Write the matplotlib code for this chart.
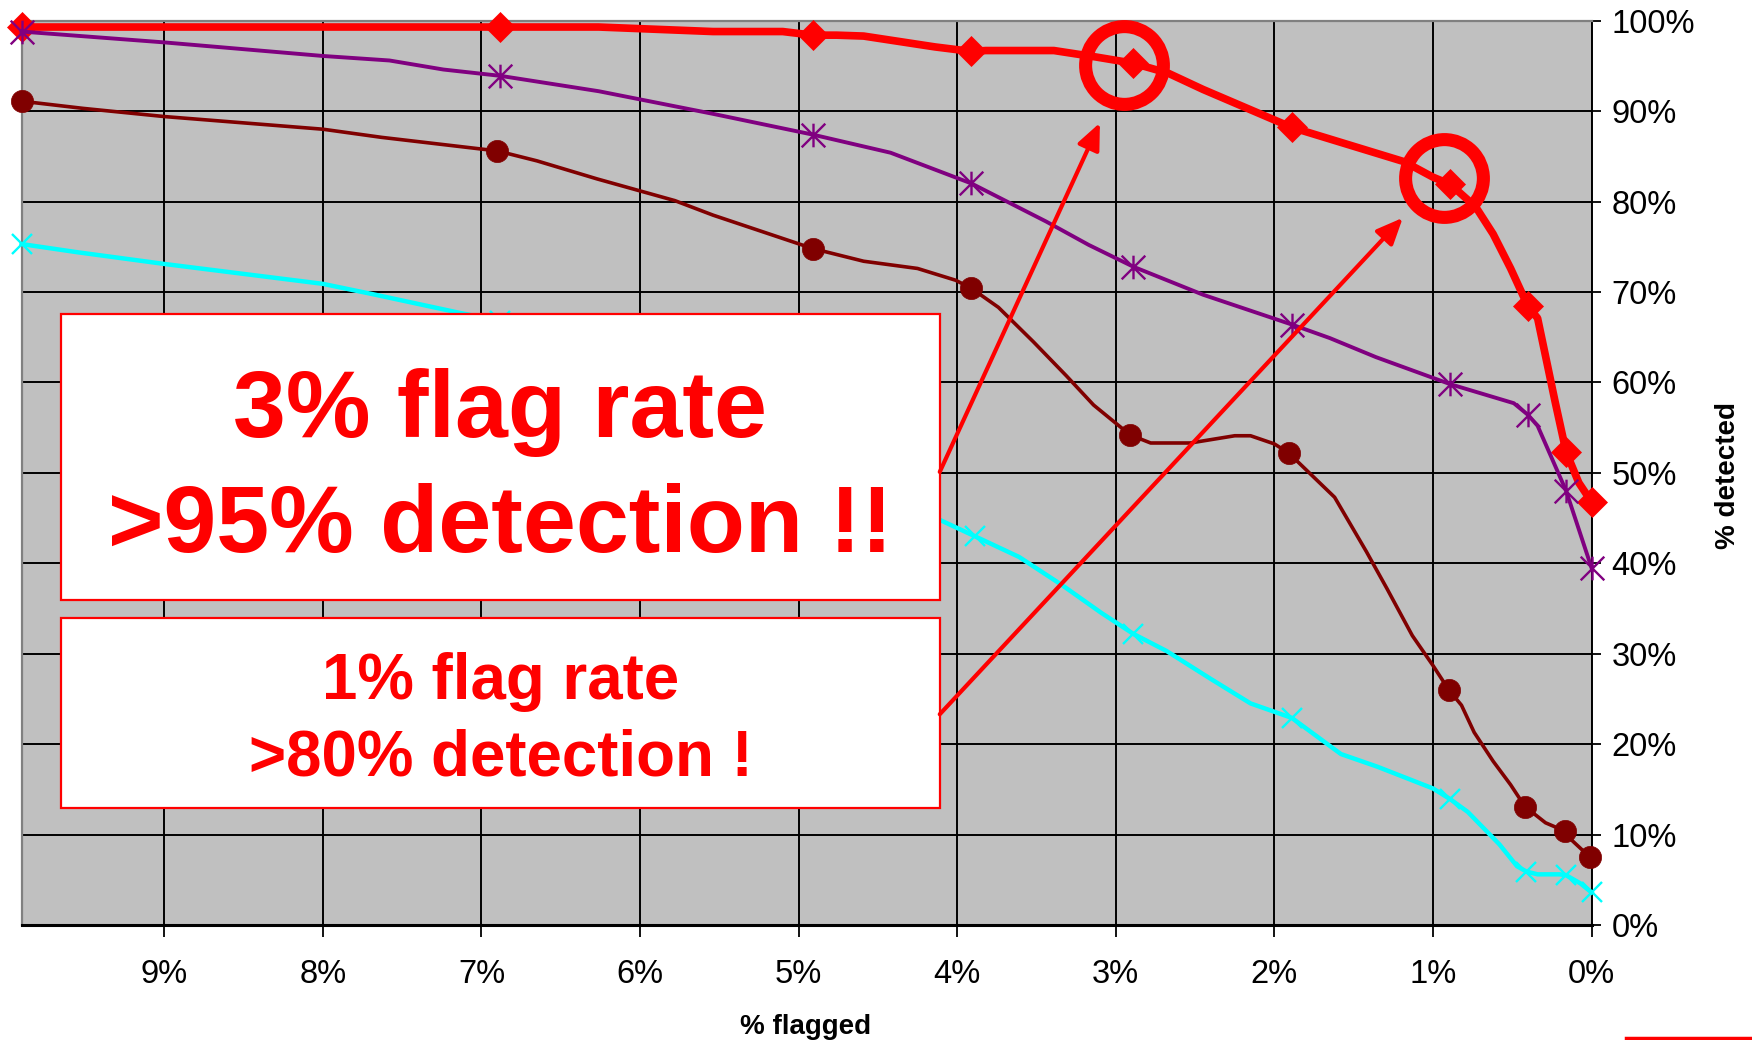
import matplotlib
matplotlib.use("Agg")
import matplotlib.pyplot as plt
from matplotlib.patches import Rectangle, FancyArrowPatch
from matplotlib.path import Path
from matplotlib.lines import Line2D

plt.rcParams["font.family"] = ["Liberation Sans", "DejaVu Sans"]

# --- data: % flagged (x) vs % detected (y), markers every few points ---
red_x = [9.9, 6.88, 6.26, 5.54, 5.10, 4.91, 4.76, 4.59, 4.14, 3.91, 3.82, 3.39, 3.13, 2.89,
         2.67, 2.45, 1.89, 1.18, 1.00, 0.89, 0.73, 0.62, 0.51, 0.40, 0.34, 0.23, 0.16, 0.08, 0.0]
red_y = [99.3, 99.3, 99.3, 98.8, 98.8, 98.4, 98.4, 98.3, 97.1, 96.6, 96.7, 96.7, 96.0, 95.3,
         94.2, 92.4, 88.2, 84.4, 82.7, 81.9, 79.4, 76.4, 72.6, 68.4, 67.1, 57.9, 52.3, 48.9, 46.8]
red_marks = [0, 1, 5, 9, 13, 16, 19, 23, 26, 28]

pur_x = [9.9, 9.0, 8.0, 7.58, 7.24, 6.88, 6.26, 5.54, 4.91, 4.42, 3.91, 3.44, 3.17, 2.89,
         2.45, 1.89, 1.65, 1.36, 0.89, 0.49, 0.40, 0.34, 0.16, 0.0]
pur_y = [98.8, 97.6, 96.1, 95.6, 94.6, 93.9, 92.2, 89.7, 87.4, 85.4, 82.0, 77.8, 75.2, 72.8,
         69.7, 66.4, 64.9, 62.8, 59.8, 57.7, 56.4, 55.2, 48.0, 39.5]
pur_marks = [0, 5, 8, 10, 13, 15, 18, 20, 22, 23]

dr_x = [9.9, 9.51, 9.0, 8.0, 7.63, 6.90, 6.65, 6.27, 5.78, 5.54, 4.91, 4.59, 4.25, 4.01, 3.91,
        3.74, 3.52, 3.31, 3.14, 2.91, 2.78, 2.53, 2.25, 2.15, 2.0, 1.91, 1.62, 1.42, 1.29, 1.13,
        1.0, 0.90, 0.82, 0.74, 0.62, 0.51, 0.42, 0.29, 0.17, 0.12, 0.01]
dr_y = [91.1, 90.3, 89.4, 88.0, 87.1, 85.6, 84.5, 82.5, 80.1, 78.5, 74.8, 73.4, 72.6, 71.3, 70.4,
        68.3, 64.5, 60.7, 57.5, 54.2, 53.3, 53.3, 54.1, 54.1, 53.2, 52.2, 47.3, 41.3, 37.2, 32.0,
        28.7, 26.0, 24.3, 21.3, 18.1, 15.5, 13.1, 11.3, 10.4, 9.3, 7.5]
dr_marks = [0, 5, 10, 14, 19, 25, 31, 36, 38, 40]

cy_x = [9.9, 9.55, 9.0, 8.0, 7.67, 7.14, 6.88, 5.9, 4.89, 4.11, 3.89, 3.61, 3.34, 3.09, 2.89,
        2.68, 2.40, 2.15, 1.89, 1.58, 1.35, 1.0, 0.89, 0.78, 0.58, 0.47, 0.41, 0.34, 0.20, 0.16,
        0.07, 0.0]
cy_y = [75.3, 74.4, 73.1, 70.9, 69.7, 67.7, 66.8, 59.0, 51.5, 44.8, 43.0, 40.7, 37.6, 34.5, 32.2,
        30.3, 27.2, 24.5, 22.9, 18.9, 17.5, 15.1, 13.9, 12.5, 8.9, 6.5, 5.9, 5.6, 5.6, 5.5,
        4.6, 3.6]
cy_marks = [0, 6, 8, 10, 14, 18, 22, 26, 29, 31]

x_ticks = [9, 8, 7, 6, 5, 4, 3, 2, 1, 0]
y_ticks = [0, 10, 20, 30, 40, 50, 60, 70, 80, 90, 100]

# highlighted operating points (circled)
hi_x = [2.95, 0.93]
hi_y = [95.1, 82.6]

RED = "#FF0000"

fig = plt.figure(figsize=(17.52, 10.4), dpi=100)
ax = fig.add_axes([0.0123, 0.1106, 0.8961, 0.8695])
ax.set_facecolor("#C0C0C0")

ax.set_xlim(9.9, 0)
ax.set_ylim(0, 100)
ax.set_xticks(x_ticks)
ax.set_xticklabels([f"{t}%" for t in x_ticks])
ax.set_yticks(y_ticks)
ax.set_yticklabels([f"{t}%" for t in y_ticks])
ax.yaxis.tick_right()
ax.tick_params(axis="x", direction="out", length=8.6, width=1.3, pad=16, labelsize=23.5)
ax.tick_params(axis="y", direction="out", length=6.5, width=1.3, pad=8, labelsize=23.5)
ax.grid(True, color="black", lw=1.4)
ax.set_axisbelow(True)
for s in ["top", "left"]:
    ax.spines[s].set_color("#808080")
    ax.spines[s].set_linewidth(1.6)
ax.spines["bottom"].set_linewidth(2.2)
ax.spines["right"].set_linewidth(1.4)

star = Path([(-1, -1), (1, 1), (-1, 1), (1, -1), (0, -1), (0, 1)],
            [Path.MOVETO, Path.LINETO, Path.MOVETO, Path.LINETO, Path.MOVETO, Path.LINETO])

ax.plot(red_x, red_y, color=RED, lw=5.5, marker="D", ms=15, mew=0.5, markevery=red_marks,
        clip_on=False, zorder=3)
ax.plot(pur_x, pur_y, color="#800080", lw=2.8, marker=star, ms=17, mew=1.7,
        markevery=pur_marks, clip_on=False, zorder=3)
ax.plot(dr_x, dr_y, color="#800000", lw=2.6, marker="o", ms=16, mew=0.5,
        markevery=dr_marks, clip_on=False, zorder=3)
ax.plot(cy_x, cy_y, color="#00FFFF", lw=3.2, marker="x", ms=15, mew=1.7,
        markevery=cy_marks, clip_on=False, zorder=3)

ax.plot(hi_x, hi_y, ls="none", marker="o", ms=56, mfc="none", mec=RED, mew=9.4,
        clip_on=False, zorder=4)

# callout boxes
ax.add_patch(Rectangle((9.65, 35.9), 4.11 - 9.65, 67.6 - 35.9, facecolor="white",
                       edgecolor=RED, lw=1.6, zorder=5))
ax.add_patch(Rectangle((9.65, 12.9), 4.11 - 9.65, 34.0 - 12.9, facecolor="white",
                       edgecolor=RED, lw=1.6, zorder=5))
ax.text(6.88, 54.0, "3% flag rate", color=RED, fontsize=68.5, fontweight="bold",
        ha="center", va="baseline", zorder=6)
ax.text(6.88, 41.3, ">95% detection !!", color=RED, fontsize=68.5, fontweight="bold",
        ha="center", va="baseline", zorder=6)
ax.text(6.88, 25.0, "1% flag rate", color=RED, fontsize=45.8, fontweight="bold",
        ha="center", va="baseline", zorder=6)
ax.text(6.88, 16.5, ">80% detection !", color=RED, fontsize=45.8, fontweight="bold",
        ha="center", va="baseline", zorder=6)

for (x0, y0), (x1, y1) in [((4.11, 50.1), (3.10, 88.7)), ((4.11, 23.3), (1.19, 78.2))]:
    ax.add_patch(FancyArrowPatch((x0, y0), (x1, y1), arrowstyle="-|>,head_length=0.8,head_width=0.35",
                                 mutation_scale=20, color=RED, lw=3, shrinkA=0, shrinkB=0,
                                 zorder=5))

fig.text(0.4600, 0.0125, "% flagged", ha="center", va="center", fontsize=20,
         fontweight="bold")
fig.text(0.9862, 0.543, "% detected", ha="center", va="center", rotation=90, fontsize=20,
         fontweight="bold")
fig.add_artist(Line2D([1626 / 1752, 1.0], [2 / 1040, 2 / 1040], color=RED, lw=2.5))

fig.savefig("out.png", dpi=100)
